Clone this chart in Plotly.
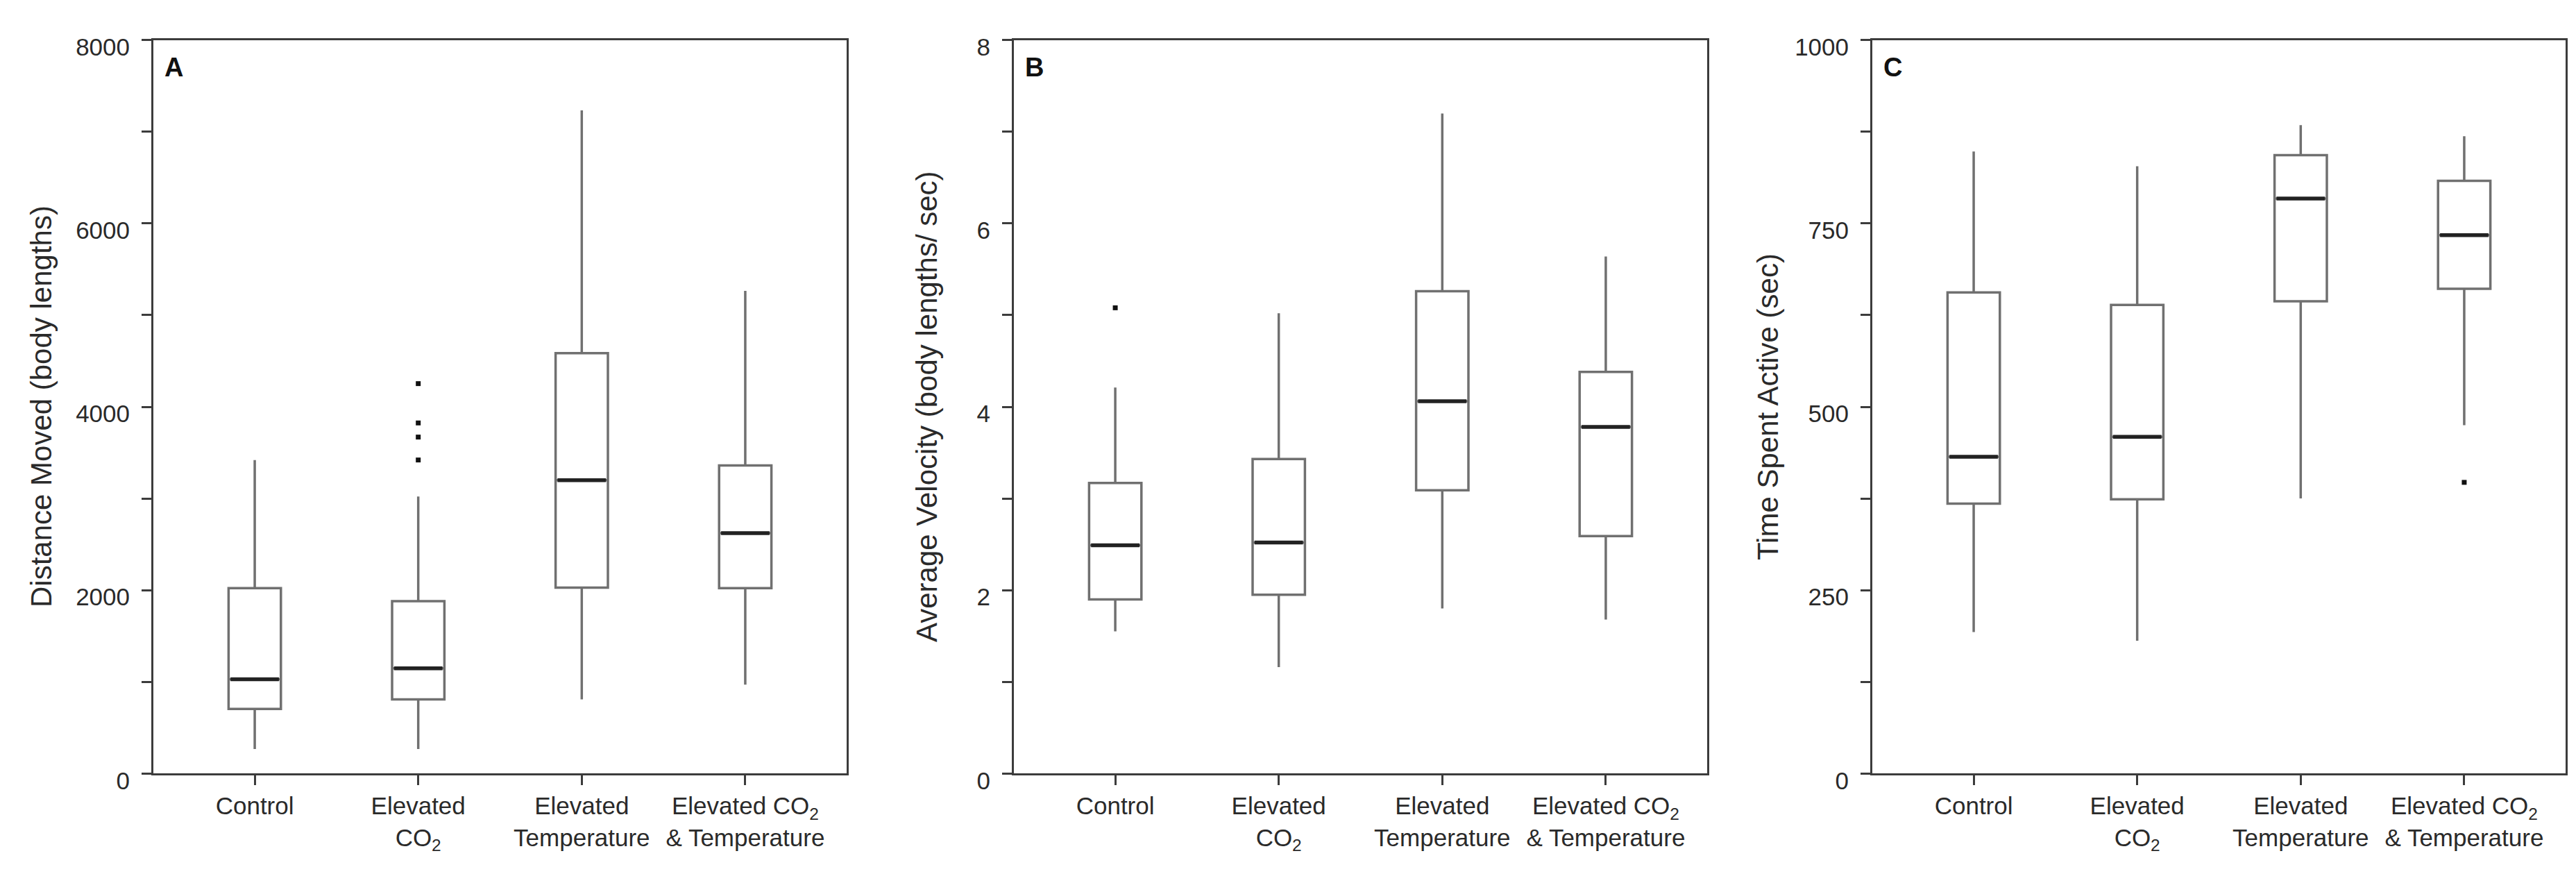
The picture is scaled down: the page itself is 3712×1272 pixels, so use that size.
import plotly.graph_objects as go

# ---------------- data ----------------
categories = ["Control", "Elevated<br>CO<sub>2</sub>", "Elevated<br>Temperature",
              "Elevated CO<sub>2</sub><br>& Temperature"]

# Panel A: Distance moved (body lengths)
dist_low = [268, 268, 809, 970]
dist_q1 = [705, 809, 2028, 2022]
dist_med = [1029, 1148, 3200, 2623]
dist_q3 = [2022, 1880, 4586, 3361]
dist_high = [3420, 3022, 7233, 5264]
dist_out_x = [1, 1, 1, 1]
dist_out_y = [4253, 3824, 3670, 3420]

# Panel B: Average velocity (body lengths / sec)
vel_low = [1.55, 1.16, 1.80, 1.68]
vel_q1 = [1.90, 1.95, 3.09, 2.59]
vel_med = [2.49, 2.52, 4.06, 3.78]
vel_q3 = [3.17, 3.43, 5.26, 4.38]
vel_high = [4.21, 5.02, 7.20, 5.64]
vel_out_x = [0]
vel_out_y = [5.08]

# Panel C: Time spent active (sec)
time_low = [193, 181, 375, 475]
time_q1 = [368, 374, 644, 661]
time_med = [432, 459, 784, 734]
time_q3 = [656, 639, 843, 808]
time_high = [848, 828, 884, 869]
time_out_x = [3]
time_out_y = [397]

y_titles = ["Distance Moved (body lengths)",
            "Average Velocity (body lengths/ sec)",
            "Time Spent Active (sec)"]
panel_letters = ["A", "B", "C"]
y_ranges = [[0, 8000], [0, 8], [0, 1000]]
y_major = [[0, 2000, 4000, 6000, 8000], [0, 2, 4, 6, 8], [0, 250, 500, 750, 1000]]
y_major_text = [["0", "2000", "4000", "6000", "8000"], ["0", "2", "4", "6", "8"],
                ["0", "250", "500", "750", "1000"]]
y_minor = [[1000, 3000, 5000, 7000], [1, 3, 5, 7], [125, 375, 625, 875]]

panels = [
    (dist_low, dist_q1, dist_med, dist_q3, dist_high, dist_out_x, dist_out_y),
    (vel_low, vel_q1, vel_med, vel_q3, vel_high, vel_out_x, vel_out_y),
    (time_low, time_q1, time_med, time_q3, time_high, time_out_x, time_out_y),
]

# ---------------- layout constants ----------------
W, H = 3712, 1272
x_domains = [[213 / W, 1212 / W], [1453 / W, 2452 / W], [2690 / W, 3689 / W]]
y_domain = [1 - 1131 / H, 1 - 41 / H]
title_x = [51 / W, 1327 / W, 2539 / W]
BOX_W = 0.32
MED_HALF = 0.148
FRAME = "#3c3c3c"
BOXLINE = "#707070"
TEXT = "#2a2a2a"
FONT = "Liberation Sans, Arial, sans-serif"

fig = go.Figure()
annotations = []

for k, (lo, q1, med, q3, hi, ox, oy) in enumerate(panels):
    xa = "x" if k == 0 else f"x{k + 1}"
    ya = "y" if k == 0 else f"y{k + 1}"
    pos = list(range(len(categories)))
    fig.add_trace(go.Box(
        x=pos, q1=q1, median=med, q3=q3, lowerfence=lo, upperfence=hi,
        width=BOX_W, fillcolor="white", line=dict(color=BOXLINE, width=3.5),
        whiskerwidth=0, boxpoints=False, xaxis=xa, yaxis=ya,
        showlegend=False, hoverinfo="skip"))
    mx, my = [], []
    for i, m in enumerate(med):
        mx += [i - MED_HALF, i + MED_HALF, None]
        my += [m, m, None]
    fig.add_trace(go.Scatter(
        x=mx, y=my, mode="lines", line=dict(color="#222222", width=5.5),
        xaxis=xa, yaxis=ya, showlegend=False, hoverinfo="skip"))
    fig.add_trace(go.Scatter(
        x=ox, y=oy, mode="markers",
        marker=dict(color="#111111", size=7, symbol="square"),
        xaxis=xa, yaxis=ya, showlegend=False, hoverinfo="skip"))

    axis_common = dict(showline=True, linecolor=FRAME, linewidth=3, mirror=True,
                       ticks="outside", ticklen=14, tickwidth=3, tickcolor=FRAME,
                       showgrid=False, zeroline=False,
                       tickfont=dict(family=FONT, size=35, color=TEXT))
    xkey = "xaxis" if k == 0 else f"xaxis{k + 1}"
    ykey = "yaxis" if k == 0 else f"yaxis{k + 1}"
    fig.update_layout(**{
        xkey: dict(domain=x_domains[k], anchor=ya, range=[-0.62, 3.62],
                   tickmode="array", tickvals=pos, ticktext=categories,
                   **axis_common),
        ykey: dict(domain=y_domain, anchor=xa, range=y_ranges[k],
                   tickmode="array", tickvals=y_major[k],
                   ticktext=y_major_text[k], ticklabelstandoff=10,
                   ticklabelshift=10,
                   minor=dict(tickmode="array", tickvals=y_minor[k],
                              ticks="outside", ticklen=14, tickwidth=3,
                              tickcolor=FRAME, showgrid=False),
                   **axis_common),
    })
    annotations.append(dict(
        text=f"<b>{panel_letters[k]}</b>", xref=f"{xa} domain", yref=f"{ya} domain",
        x=0.014, y=0.985, xanchor="left", yanchor="top", showarrow=False,
        font=dict(family=FONT, size=38, color="#111111")))
    annotations.append(dict(
        text=y_titles[k], xref="paper", yref="paper",
        x=title_x[k], y=(y_domain[0] + y_domain[1]) / 2,
        xanchor="center", yanchor="middle", textangle=-90, showarrow=False,
        font=dict(family=FONT, size=42, color=TEXT)))

fig.update_layout(
    width=W, height=H, margin=dict(l=0, r=0, t=0, b=0),
    paper_bgcolor="white", plot_bgcolor="white",
    annotations=annotations, showlegend=False,
)

fig.write_html("out.html")
